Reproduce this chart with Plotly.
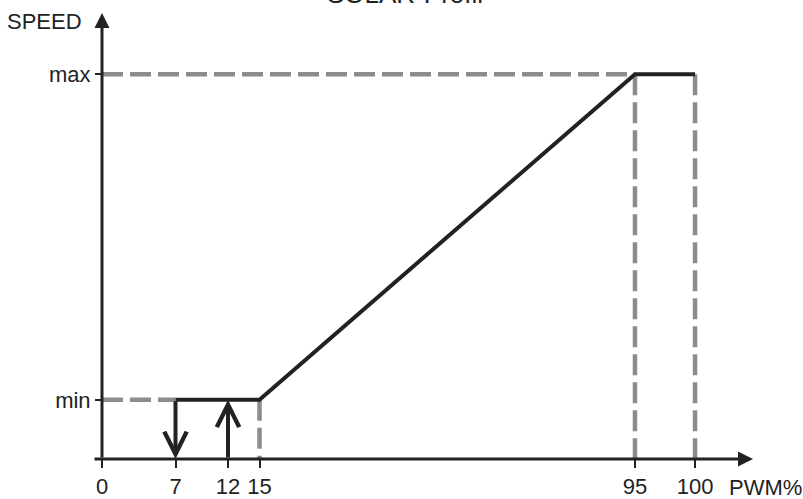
import numpy as np
import plotly.graph_objects as go

# ---------------- data ----------------
TITLE = "SOLAR-Profil"
PWM_TICKS = [0, 7, 12, 15, 95, 100]
PWM_TICK_LABELS = ["0", "7", "12", "15", "95", "100"]
SPEED_LEVELS = [1.0, 6.5]            # schematic speed levels (min, max)
SPEED_LABELS = ["min", "max"]
PROFILE_PWM = [7, 15, 95, 100]       # black characteristic line
PROFILE_SPEED = [1.0, 1.0, 6.5, 6.5]
SWITCH_OFF_PWM = 7                   # hysteresis: falls to off at 7 %
SWITCH_ON_PWM = 12                   # hysteresis: switches on at 12 %
X_LABEL = "PWM%"
Y_LABEL = "SPEED"

# ---------------- schematic (broken) x scale ----------------
BREAK_PWM = [0, 15, 95, 100]
BREAK_POS = [0, 15, 50.76, 56.48]


def sx(v):
    return float(np.interp(v, BREAK_PWM, BREAK_POS))


W, H = 803, 499
X0_PX, Y0_PX = 102, 459
UX, UY = 10.5, 59.2
x_range = [-X0_PX / UX, (W - X0_PX) / UX]
y_range = [(Y0_PX - H) / UY, Y0_PX / UY]
X_END = (753 - X0_PX) / UX
X_START = (93 - X0_PX) / UX
Y_END = (Y0_PX - 13) / UY

DARK = "#222222"
GREY = "#8c8c8c"
FONT = "Liberation Sans, Arial, sans-serif"
FS = 22

fig = go.Figure()

# dashed guide lines
gx, gy = [], []
smin, smax = min(SPEED_LEVELS), max(SPEED_LEVELS)
for lvl in SPEED_LEVELS:
    first = min(p for p, s in zip(PROFILE_PWM, PROFILE_SPEED) if s == lvl)
    gx += [sx(0), sx(first), None]
    gy += [lvl, lvl, None]
for p, s in zip(PROFILE_PWM, PROFILE_SPEED):
    if p in (SWITCH_OFF_PWM, SWITCH_ON_PWM):
        continue
    gx += [sx(p), sx(p), None]
    gy += [s, 0, None]
fig.add_trace(go.Scatter(x=gx, y=gy, mode="lines", hoverinfo="skip",
                         line=dict(color=GREY, width=4.5, dash="21px,7px"),
                         showlegend=False))

# characteristic line
fig.add_trace(go.Scatter(x=[sx(p) for p in PROFILE_PWM], y=PROFILE_SPEED,
                         mode="lines", hoverinfo="skip",
                         line=dict(color=DARK, width=4), showlegend=False))

annotations = []
annotations.append(dict(x=X_END, y=0, ax=X_START, ay=0, xref="x", yref="y",
                        axref="x", ayref="y", text="", showarrow=True,
                        arrowhead=2, arrowsize=1, arrowwidth=3,
                        arrowcolor=DARK, standoff=0))
annotations.append(dict(x=0, y=Y_END, ax=0, ay=0, xref="x", yref="y",
                        axref="x", ayref="y", text="", showarrow=True,
                        arrowhead=2, arrowsize=1, arrowwidth=3,
                        arrowcolor=DARK, standoff=0))
annotations.append(dict(x=sx(SWITCH_OFF_PWM), y=0, ax=sx(SWITCH_OFF_PWM), ay=smin,
                        xref="x", yref="y", axref="x", ayref="y", text="",
                        showarrow=True, arrowhead=5, arrowsize=1.1,
                        arrowwidth=4, arrowcolor=DARK, standoff=0))
annotations.append(dict(x=sx(SWITCH_ON_PWM), y=smin, ax=sx(SWITCH_ON_PWM), ay=0,
                        xref="x", yref="y", axref="x", ayref="y", text="",
                        showarrow=True, arrowhead=5, arrowsize=1.1,
                        arrowwidth=4, arrowcolor=DARK, standoff=0))
annotations.append(dict(x=84 / W, y=1 - 21 / H, xref="paper", yref="paper",
                        xanchor="right", yanchor="middle", text=Y_LABEL,
                        showarrow=False, font=dict(family=FONT, size=FS, color=DARK)))
annotations.append(dict(x=727 / W, y=1 - 487 / H, xref="paper", yref="paper",
                        xanchor="left", yanchor="middle", text=X_LABEL,
                        showarrow=False, font=dict(family=FONT, size=FS, color=DARK)))
annotations.append(dict(x=405 / W, y=1 - 11.5 / H, xref="paper", yref="paper",
                        xanchor="center", yanchor="bottom", text=TITLE,
                        showarrow=False,
                        font=dict(family=FONT, size=26, color=DARK)))

fig.update_layout(
    width=W, height=H, margin=dict(l=0, r=0, t=0, b=0),
    paper_bgcolor="white", plot_bgcolor="white",
    annotations=annotations,
    xaxis=dict(range=x_range, showgrid=False, zeroline=False, showline=False,
               tickmode="array", tickvals=[sx(v) for v in PWM_TICKS],
               ticktext=PWM_TICK_LABELS, ticks="outside", ticklen=8,
               tickwidth=2, tickcolor=DARK, anchor="free",
               position=(H - Y0_PX) / H, automargin=False,
               tickfont=dict(family=FONT, size=FS, color=DARK)),
    yaxis=dict(range=y_range, showgrid=False, zeroline=False, showline=False,
               tickmode="array", tickvals=SPEED_LEVELS, ticktext=SPEED_LABELS,
               ticks="outside", ticklen=7, tickwidth=2, tickcolor=DARK,
               anchor="free", position=X0_PX / W, automargin=False,
               tickfont=dict(family=FONT, size=FS, color=DARK)),
)

fig.write_html("out.html", config={"displayModeBar": False},
               post_script="document.body.style.margin='0px';document.body.style.overflow='hidden';")
